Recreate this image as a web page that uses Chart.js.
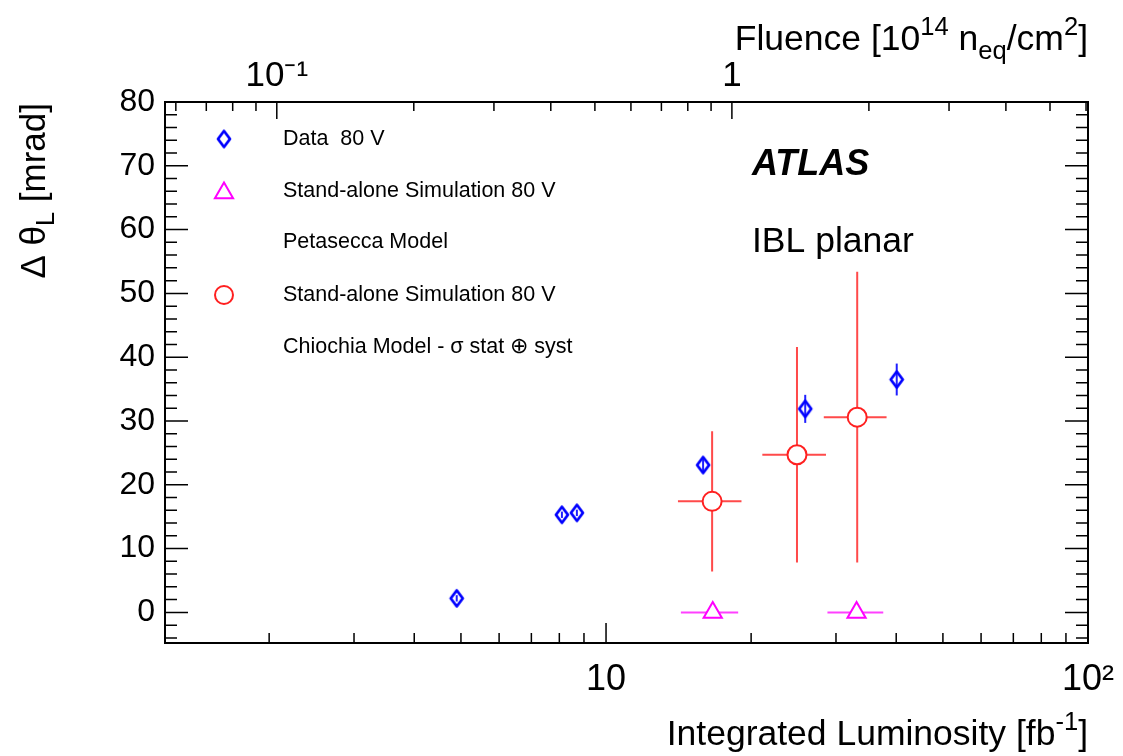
<!DOCTYPE html>
<html>
<head>
<meta charset="utf-8">
<script src="https://cdn.jsdelivr.net/npm/chart.js@4.4.0/dist/chart.umd.min.js"></script>
<style>
  body { margin: 0; background: #fff; }
  #wrap { width: 1123px; height: 756px; }
</style>
</head>
<body>
<div id="wrap"><canvas id="thetaChart" width="1123" height="756"></canvas></div>
<script>
// data 80 V : integrated luminosity [fb^-1] vs delta theta_L [mrad]
var dataLumi  = [4.9, 8.1, 8.7, 15.9, 25.9, 40.1];
var dataTheta = [2.2, 15.3, 15.6, 23.1, 31.9, 36.5];
var dataErr   = [0.5, 0.5, 0.5, 1.0, 2.2, 2.5];

// stand-alone simulation, Petasecca model
var petaLumi   = [16.65, 33.1];
var petaTheta  = [0, 0];
var petaLumiLo = [14.3, 28.8];
var petaLumiHi = [18.8, 37.6];

// stand-alone simulation, Chiochia model
var chioLumi   = [16.6, 24.9, 33.2];
var chioTheta  = [17.4, 24.7, 30.6];
var chioErr    = [11.0, 16.9, 22.8];
var chioLumiLo = [14.1, 21.1, 28.3];
var chioLumiHi = [19.1, 28.6, 38.2];

// axis ticks
var lumiTicks   = [2, 3, 4, 5, 6, 7, 8, 9, 10, 20, 30, 40, 50, 60, 70, 80, 90, 100];
var lumiMajor   = [10, 100];
var lumiLabels  = ['10', '10²'];
var fluenceTicks  = [0.06, 0.07, 0.08, 0.09, 0.1, 0.2, 0.3, 0.4, 0.5, 0.6, 0.7, 0.8, 0.9, 1, 2, 3, 4, 5, 6];
var fluenceMajor  = [0.1, 1];
var fluenceLabels = ['10⁻¹', '1'];
var thetaTicks  = [-4, -2, 0, 2, 4, 6, 8, 10, 12, 14, 16, 18, 20, 22, 24, 26, 28, 30, 32, 34, 36, 38, 40,
                   42, 44, 46, 48, 50, 52, 54, 56, 58, 60, 62, 64, 66, 68, 70, 72, 74, 76, 78, 80];
var thetaMajor  = [0, 10, 20, 30, 40, 50, 60, 70, 80];
var thetaLabels = ['0', '10', '20', '30', '40', '50', '60', '70', '80'];

var FONT = "'Liberation Sans', Arial, Helvetica, sans-serif";
Chart.defaults.font.family = FONT;
Chart.defaults.color = '#000';

function labelFor(v, majors, labels) {
  for (var i = 0; i < majors.length; i++) {
    if (Math.abs(v - majors[i]) < 1e-9) return labels[i];
  }
  return '';
}

// ROOT style diamond marker
function makeDiamond(color) {
  var c = document.createElement('canvas');
  c.width = 18; c.height = 21;
  var g = c.getContext('2d');
  g.strokeStyle = color;
  g.lineWidth = 2.8;
  g.lineJoin = 'round';
  g.beginPath();
  g.moveTo(9, 2.5); g.lineTo(15, 10.5); g.lineTo(9, 18.5); g.lineTo(3, 10.5);
  g.closePath();
  g.stroke();
  return c;
}
var diamond = makeDiamond('#0000ff');

function pts(xs, ys) {
  return xs.map(function (x, i) { return { x: x, y: ys[i] }; });
}

// draw text with sub/superscripts, pieces: [text, mode]
function richText(ctx, pieces, x, y, size, align) {
  var widths = pieces.map(function (p) {
    ctx.font = (p[1] ? size * 0.72 : size) + 'px ' + FONT;
    return ctx.measureText(p[0]).width;
  });
  var total = widths.reduce(function (a, b) { return a + b; }, 0);
  var cx = align === 'right' ? x - total : x;
  ctx.textAlign = 'left';
  ctx.textBaseline = 'alphabetic';
  pieces.forEach(function (p, i) {
    var dy = 0;
    if (p[1] === 'sup') dy = -size * 0.42;
    if (p[1] === 'sub') dy = size * 0.25;
    ctx.font = (p[1] ? size * 0.72 : size) + 'px ' + FONT;
    ctx.fillText(p[0], cx, y + dy);
    cx += widths[i];
  });
}

function noPad(s) {
  s.paddingLeft = 0; s.paddingRight = 0; s.paddingTop = 0; s.paddingBottom = 0;
}

var errorBars = {
  id: 'errorBars',
  beforeDatasetsDraw: function (chart) {
    var ctx = chart.ctx, xs = chart.scales.x, ys = chart.scales.y;
    ctx.save();
    ctx.lineWidth = 2;
    // data: vertical only
    ctx.strokeStyle = '#2020ff';
    dataLumi.forEach(function (l, i) {
      var px = xs.getPixelForValue(l);
      ctx.beginPath();
      ctx.moveTo(px, ys.getPixelForValue(dataTheta[i] - dataErr[i]));
      ctx.lineTo(px, ys.getPixelForValue(dataTheta[i] + dataErr[i]));
      ctx.stroke();
    });
    // Chiochia
    ctx.strokeStyle = '#ff4a4a';
    chioLumi.forEach(function (l, i) {
      var px = xs.getPixelForValue(l), py = ys.getPixelForValue(chioTheta[i]);
      ctx.beginPath();
      ctx.moveTo(px, ys.getPixelForValue(chioTheta[i] - chioErr[i]));
      ctx.lineTo(px, ys.getPixelForValue(chioTheta[i] + chioErr[i]));
      ctx.moveTo(xs.getPixelForValue(chioLumiLo[i]), py);
      ctx.lineTo(xs.getPixelForValue(chioLumiHi[i]), py);
      ctx.stroke();
    });
    // Petasecca
    ctx.strokeStyle = '#ff40ff';
    petaLumi.forEach(function (l, i) {
      var py = ys.getPixelForValue(petaTheta[i]);
      ctx.beginPath();
      ctx.moveTo(xs.getPixelForValue(petaLumiLo[i]), py);
      ctx.lineTo(xs.getPixelForValue(petaLumiHi[i]), py);
      ctx.stroke();
    });
    ctx.restore();
  }
};

var frameAndTicks = {
  id: 'frameAndTicks',
  afterDraw: function (chart) {
    var ctx = chart.ctx, a = chart.chartArea;
    var xs = chart.scales.x, x2 = chart.scales.x2, ys = chart.scales.y;
    ctx.save();
    ctx.strokeStyle = '#000';
    ctx.lineWidth = 1.5;
    ctx.beginPath();
    lumiTicks.forEach(function (v) {
      var px = xs.getPixelForValue(v);
      var len = lumiMajor.indexOf(v) >= 0 ? 20 : 10;
      ctx.moveTo(px, a.bottom); ctx.lineTo(px, a.bottom - len);
    });
    fluenceTicks.forEach(function (v) {
      var px = x2.getPixelForValue(v);
      var len = fluenceMajor.indexOf(v) >= 0 ? 17 : 9;
      ctx.moveTo(px, a.top); ctx.lineTo(px, a.top + len);
    });
    thetaTicks.forEach(function (v) {
      var py = ys.getPixelForValue(v);
      var len = thetaMajor.indexOf(v) >= 0 ? 23 : 12;
      ctx.moveTo(a.left, py); ctx.lineTo(a.left + len, py);
      ctx.moveTo(a.right, py); ctx.lineTo(a.right - len, py);
    });
    ctx.stroke();
    ctx.lineWidth = 2;
    ctx.strokeRect(a.left, a.top, a.right - a.left, a.bottom - a.top);

    // axis titles
    ctx.fillStyle = '#000';
    richText(ctx, [['Integrated Luminosity [fb'], ['-1', 'sup'], [']']], a.right, 745, 35.5, 'right');
    richText(ctx, [['Fluence [10'], ['14', 'sup'], [' n'], ['eq', 'sub'], ['/cm'], ['2', 'sup'], [']']],
             a.right, 50, 35.5, 'right');
    ctx.save();
    ctx.translate(45, a.top + 1);
    ctx.rotate(-Math.PI / 2);
    richText(ctx, [['\u0394 \u03b8'], ['L', 'sub'], [' [mrad]']], 0, 0, 35, 'right');
    ctx.restore();

    // labels
    ctx.textAlign = 'left';
    ctx.textBaseline = 'alphabetic';
    ctx.font = 'italic bold 36px ' + FONT;
    ctx.fillText('ATLAS', 752, 175);
    ctx.font = '35.5px ' + FONT;
    ctx.fillText('IBL planar', 752, 252);

    // legend
    var rows = [
      ['diamond', 'Data  80 V'],
      ['triangle', 'Stand-alone Simulation 80 V'],
      [null, 'Petasecca Model'],
      ['circle', 'Stand-alone Simulation 80 V'],
      [null, 'Chiochia Model - \u03c3 stat \u2295 syst']
    ];
    var rowY = [139, 191, 242, 295, 347];
    ctx.textBaseline = 'middle';
    rows.forEach(function (r, i) {
      var y = rowY[i];
      if (r[0] === 'diamond') {
        ctx.drawImage(diamond, 224 - diamond.width / 2, y - diamond.height / 2);
      } else if (r[0] === 'triangle') {
        ctx.lineWidth = 2; ctx.strokeStyle = '#ff00ff'; ctx.fillStyle = '#fff';
        Chart.helpers.drawPoint(ctx, { pointStyle: 'triangle', radius: 10.5, borderWidth: 2 }, 224, y + 2);
      } else if (r[0] === 'circle') {
        ctx.lineWidth = 2; ctx.strokeStyle = '#ff2020'; ctx.fillStyle = '#fff';
        ctx.beginPath(); ctx.arc(224, y, 9, 0, Math.PI * 2); ctx.fill(); ctx.stroke();
      }
      ctx.fillStyle = '#000';
      ctx.font = '21.5px ' + FONT;
      ctx.fillText(r[1], 283, y);
    });
    ctx.restore();
  }
};

var config = {
  type: 'scatter',
  data: {
    datasets: [
      {
        label: 'Data 80 V',
        data: pts(dataLumi, dataTheta),
        pointStyle: diamond,
        pointRadius: 9
      },
      {
        label: 'Stand-alone Simulation 80 V (Petasecca)',
        data: pts(petaLumi, petaTheta),
        pointStyle: 'triangle',
        pointRadius: 10.5,
        borderColor: '#ff00ff',
        backgroundColor: '#ffffff',
        borderWidth: 2
      },
      {
        label: 'Stand-alone Simulation 80 V (Chiochia)',
        data: pts(chioLumi, chioTheta),
        pointStyle: 'circle',
        pointRadius: 9.5,
        borderColor: '#ff2020',
        backgroundColor: '#ffffff',
        borderWidth: 2
      }
    ]
  },
  options: {
    responsive: false,
    animation: false,
    events: [],
    layout: { padding: { left: 0, right: 35, top: 0, bottom: 0 } },
    plugins: {
      legend: { display: false },
      tooltip: { enabled: false }
    },
    scales: {
      x: {
        type: 'logarithmic',
        position: 'bottom',
        min: 1.216,
        max: 100,
        grid: { display: false, drawTicks: false },
        border: { display: false },
        afterBuildTicks: function (s) { s.ticks = lumiTicks.map(function (v) { return { value: v }; }); },
        afterFit: function (s) { s.height = 113; noPad(s); },
        ticks: {
          autoSkip: false, maxRotation: 0, padding: 15,
          font: { size: 36 },
          callback: function (v) { return labelFor(v, lumiMajor, lumiLabels); }
        }
      },
      x2: {
        type: 'logarithmic',
        position: 'top',
        min: 0.0568,
        max: 6.06,
        grid: { display: false, drawTicks: false },
        border: { display: false },
        afterBuildTicks: function (s) { s.ticks = fluenceTicks.map(function (v) { return { value: v }; }); },
        afterFit: function (s) { s.height = 102; noPad(s); },
        ticks: {
          autoSkip: false, maxRotation: 0, padding: 5,
          font: { size: 35 },
          callback: function (v) { return labelFor(v, fluenceMajor, fluenceLabels); }
        }
      },
      y: {
        type: 'linear',
        min: -4.8,
        max: 80,
        grid: { display: false, drawTicks: false },
        border: { display: false },
        afterBuildTicks: function (s) { s.ticks = thetaTicks.map(function (v) { return { value: v }; }); },
        afterFit: function (s) { s.width = 165; noPad(s); },
        ticks: {
          autoSkip: false, padding: 10,
          font: { size: 32 },
          callback: function (v) { return labelFor(v, thetaMajor, thetaLabels); }
        }
      }
    }
  },
  plugins: [errorBars, frameAndTicks]
};

new Chart(document.getElementById('thetaChart'), config);
</script>
</body>
</html>
